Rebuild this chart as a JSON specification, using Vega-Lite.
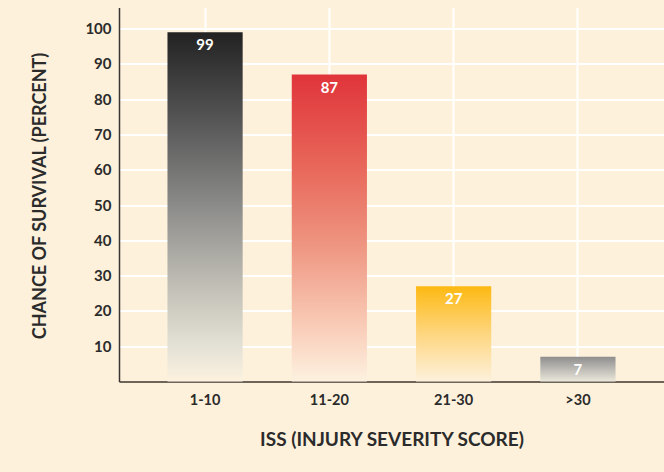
{
  "$schema": "https://vega.github.io/schema/vega-lite/v6.json",
  "width": 545,
  "height": 374,
  "autosize": "none",
  "padding": {"left": 119, "top": 7.5, "right": 0, "bottom": 90.5},
  "background": "#fdf1db",
  "config": {
    "view": {"stroke": null},
    "font": "Lato",
    "axis": {"labelFont": "Lato", "titleFont": "Lato"}
  },
  "data": {
    "values": [
      {"iss": "1-10", "survival": 99},
      {"iss": "11-20", "survival": 87},
      {"iss": "21-30", "survival": 27},
      {"iss": ">30", "survival": 7}
    ]
  },
  "encoding": {
    "x": {
      "field": "iss",
      "type": "nominal",
      "sort": null,
      "scale": {"paddingInner": 0.395, "paddingOuter": 0.39},
      "axis": {
        "title": "ISS (INJURY SEVERITY SCORE)",
        "titleFontSize": 19,
        "titleFontWeight": "bold",
        "titleColor": "#2b2b2b",
        "titlePadding": 23,
        "labelAngle": 0,
        "labelFontSize": 14.5,
        "labelFontWeight": "bold",
        "labelColor": "#2b2b2b",
        "labelPadding": 12,
        "ticks": false,
        "bandPosition": 0.5,
        "grid": true,
        "gridColor": "#ffffff",
        "gridWidth": 2,
        "gridOpacity": 1,
        "domainColor": "#6e655a",
        "domainWidth": 2
      }
    },
    "y": {
      "field": "survival",
      "type": "quantitative",
      "scale": {"domain": [0, 106], "nice": false},
      "axis": {
        "values": [10, 20, 30, 40, 50, 60, 70, 80, 90, 100],
        "title": "CHANCE OF SURVIVAL (PERCENT)",
        "titleFontSize": 18,
        "titleFontWeight": "bold",
        "titleColor": "#2b2b2b",
        "titleX": -79,
        "titleY": 188,
        "titleAngle": 270,
        "titleAlign": "center",
        "titleBaseline": "middle",
        "labelFontSize": 15,
        "labelFontWeight": "bold",
        "labelColor": "#2b2b2b",
        "labelPadding": 8,
        "ticks": false,
        "grid": true,
        "gridColor": "#ffffff",
        "gridWidth": 2,
        "gridOpacity": 1,
        "domainColor": "#3a3530",
        "domainWidth": 1.5
      }
    }
  },
  "layer": [
    {
      "transform": [{"filter": "datum.iss === '1-10'"}],
      "mark": {
        "type": "bar",
        "color": {
          "gradient": "linear", "x1": 0, "y1": 0, "x2": 0, "y2": 1,
          "stops": [
            {"offset": 0, "color": "#222222"},
            {"offset": 0.25, "color": "#555555"},
            {"offset": 0.5, "color": "#8c8c8a"},
            {"offset": 0.75, "color": "#c6c4ba"},
            {"offset": 0.9, "color": "#e4e1d6"},
            {"offset": 1, "color": "#fcf2df"}
          ]
        }
      }
    },
    {
      "transform": [{"filter": "datum.iss === '11-20'"}],
      "mark": {
        "type": "bar",
        "color": {
          "gradient": "linear", "x1": 0, "y1": 0, "x2": 0, "y2": 1,
          "stops": [
            {"offset": 0, "color": "#e0343a"},
            {"offset": 0.3, "color": "#e8675a"},
            {"offset": 0.55, "color": "#ee9480"},
            {"offset": 0.8, "color": "#f8c8b3"},
            {"offset": 1, "color": "#fdf1e0"}
          ]
        }
      }
    },
    {
      "transform": [{"filter": "datum.iss === '21-30'"}],
      "mark": {
        "type": "bar",
        "color": {
          "gradient": "linear", "x1": 0, "y1": 0, "x2": 0, "y2": 1,
          "stops": [
            {"offset": 0, "color": "#fdb912"},
            {"offset": 0.5, "color": "#fed680"},
            {"offset": 1, "color": "#fdf1dc"}
          ]
        }
      }
    },
    {
      "transform": [{"filter": "datum.iss === '>30'"}],
      "mark": {
        "type": "bar",
        "color": {
          "gradient": "linear", "x1": 0, "y1": 0, "x2": 0, "y2": 1,
          "stops": [
            {"offset": 0, "color": "#8e8e8e"},
            {"offset": 1, "color": "#ebe7db"}
          ]
        }
      }
    },
    {
      "mark": {
        "type": "text",
        "baseline": "middle",
        "dy": 13,
        "color": "#ffffff",
        "fontSize": 15,
        "fontWeight": "bold",
        "font": "Lato"
      },
      "encoding": {
        "text": {"field": "survival", "type": "quantitative"}
      }
    }
  ]
}
